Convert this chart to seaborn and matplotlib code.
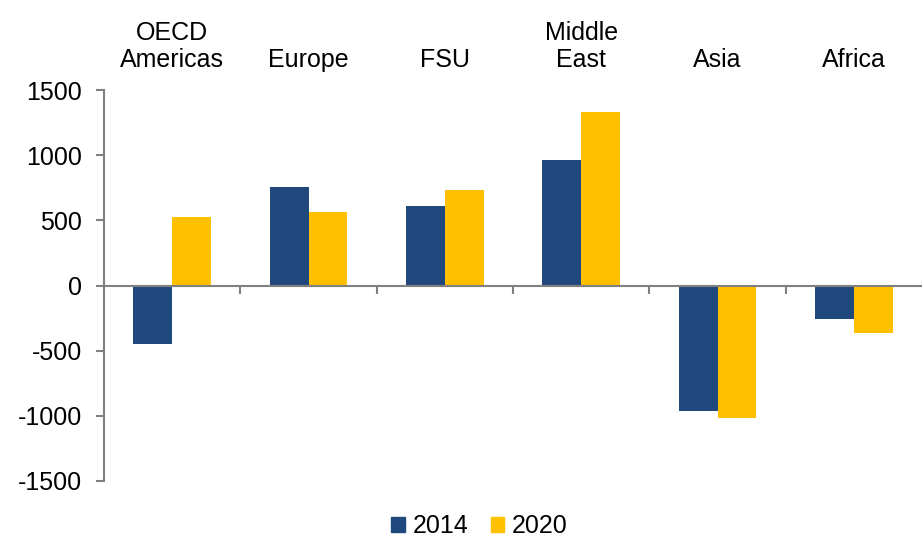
import matplotlib
matplotlib.use("Agg")
import matplotlib.pyplot as plt
import matplotlib.patches as mpatches
import seaborn as sns
import pandas as pd

regions = ["OECD\nAmericas", "Europe", "FSU", "Middle\nEast", "Asia", "Africa"]
years = ["2014", "2020"]
values_2014 = [-450, 757, 613, 962, -966, -259]
values_2020 = [523, 567, 731, 1331, -1015, -362]
yticks = [-1500, -1000, -500, 0, 500, 1000, 1500]
colors = {"2014": "#1F497D", "2020": "#FFC000"}

df = pd.DataFrame({
    "region": regions * 2,
    "year": ["2014"] * len(regions) + ["2020"] * len(regions),
    "value": values_2014 + values_2020,
})

sns.set_theme(style="white")
plt.rcParams["font.family"] = ["Liberation Sans", "DejaVu Sans"]
plt.rcParams["text.color"] = "black"

fig = plt.figure(figsize=(9.22, 5.41), dpi=100)
ax = fig.add_axes([104 / 922, 1 - 481 / 541, 818 / 922, (481 - 90) / 541])

sns.barplot(data=df, x="region", y="value", hue="year", order=regions,
            hue_order=years, palette=colors, width=0.572, errorbar=None,
            legend=False, ax=ax, saturation=1, linewidth=0)

ax.set_xlim(-0.5, len(regions) - 0.5)
ax.set_ylim(-1500, 1500)
ax.set_yticks(yticks)
ax.set_yticklabels([str(v) for v in yticks], fontsize=18, color="black")
ax.set_xlabel("")
ax.set_ylabel("")

gray = "#808080"
for s in ["top", "right"]:
    ax.spines[s].set_visible(False)
ax.spines["left"].set_color(gray)
ax.spines["left"].set_linewidth(1.5)
ax.spines["bottom"].set_color(gray)
ax.spines["bottom"].set_linewidth(1.5)
ax.spines["bottom"].set_position(("data", 0))

ax.set_xticks([i + 0.5 for i in range(len(regions) - 1)])
ax.set_xticklabels([])
ax.tick_params(axis="x", which="both", direction="out", length=6, width=1.5,
               color=gray, bottom=True)
ax.tick_params(axis="y", direction="out", length=6, width=1.5, color=gray,
               pad=10, left=True, labelcolor="black")

for i, r in enumerate(regions):
    ax.annotate(r, xy=(i, 1), xycoords=("data", "axes fraction"),
                xytext=(0, 18), textcoords="offset pixels",
                ha="center", va="bottom", fontsize=18, linespacing=1.15,
                color="black")

handles = [mpatches.Patch(color=colors[y], label=y) for y in years]
leg = fig.legend(handles=handles, loc="center", bbox_to_anchor=(0.52, 0.027),
                 ncol=2, frameon=False, fontsize=18, handlelength=0.55,
                 handleheight=0.55, handletextpad=0.3, columnspacing=0.9,
                 borderpad=0)
for t in leg.get_texts():
    t.set_color("black")

fig.savefig("out.png", dpi=100)
